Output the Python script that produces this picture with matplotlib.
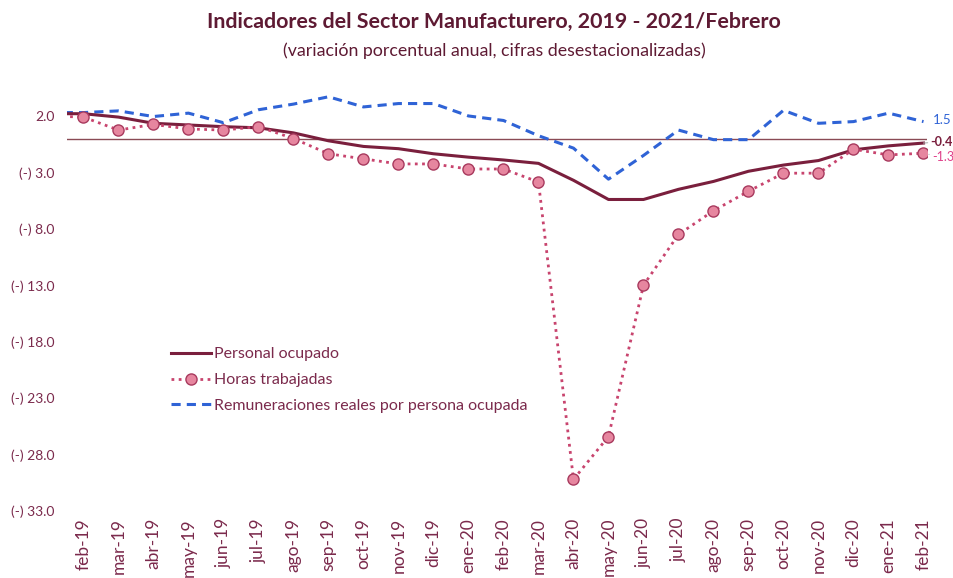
import numpy as np
import matplotlib
matplotlib.use("Agg")
import matplotlib.pyplot as plt

plt.rcParams["font.family"] = ["Lato", "DejaVu Sans"]

# months (first point, ene-19, has no label; it only feeds the left edge)
months = ["ene-19", "feb-19", "mar-19", "abr-19", "may-19", "jun-19", "jul-19",
          "ago-19", "sep-19", "oct-19", "nov-19", "dic-19", "ene-20", "feb-20",
          "mar-20", "abr-20", "may-20", "jun-20", "jul-20", "ago-20", "sep-20",
          "oct-20", "nov-20", "dic-20", "ene-21", "feb-21"]

personal = [2.2, 2.2, 1.9, 1.35, 1.2, 1.05, 0.95, 0.5, -0.2, -0.7, -0.9, -1.35,
            -1.65, -1.9, -2.2, -3.7, -5.4, -5.4, -4.5, -3.8, -2.9, -2.35, -1.95,
            -1.0, -0.65, -0.4]
horas = [2.0, 1.9, 0.75, 1.25, 0.85, 0.75, 1.05, 0.0, -1.35, -1.8, -2.25, -2.25,
         -2.7, -2.7, -3.85, -30.2, -26.4, -13.0, -8.5, -6.4, -4.67, -3.07, -3.07,
         -0.95, -1.45, -1.3]
remun = [2.3, 2.3, 2.45, 1.95, 2.25, 1.4, 2.55, 3.05, 3.7, 2.8, 3.1, 3.1, 2.0,
         1.6, 0.25, -0.85, -3.6, -1.5, 0.75, -0.1, -0.1, 2.5, 1.35, 1.5, 2.25, 1.5]

yticks = [2, -3, -8, -13, -18, -23, -28, -33]
ytick_labels = ["2.0", "(-) 3.0", "(-) 8.0", "(-) 13.0", "(-) 18.0",
                "(-) 23.0", "(-) 28.0", "(-) 33.0"]

c_pers = "#7A1F3D"
c_horas = "#C8446E"
c_remun = "#2F63D6"
c_text = "#7B2A4C"

x = np.arange(len(months)) - 1

fig = plt.figure(figsize=(9.54, 5.78), dpi=100)
ax = fig.add_axes([67 / 954, 1 - 511 / 578, (927 - 67) / 954, (511 - 90) / 578])

ax.axhline(0, color="#8A4A55", lw=1.0, zorder=1)
ax.plot(x, personal, color=c_pers, lw=2.2, label="Personal ocupado", zorder=3)
ax.plot(x, horas, color=c_horas, lw=2, ls=(0, (1, 1.6)), label="Horas trabajadas",
        marker="o", markersize=8, markerfacecolor="#E6869F",
        markeredgecolor="#A83A5E", markeredgewidth=1, markevery=range(1, len(x)),
        zorder=4)
ax.plot(x, remun, color=c_remun, lw=2.2, ls=(0, (3, 2)),
        label="Remuneraciones reales por persona ocupada", zorder=2)

ax.set_xlim(-0.47, 24.1)
ax.set_ylim(-33, 4.3)
ax.set_xticks(x[1:])
ax.set_xticklabels(months[1:], rotation=90, fontsize=12.5, color=c_text, va="top")
ax.set_yticks(yticks)
ax.set_yticklabels(ytick_labels, fontsize=10, color=c_text)
ax.tick_params(axis="both", length=0)
ax.tick_params(axis="y", pad=9)
ax.tick_params(axis="x", pad=5)
for s in ax.spines.values():
    s.set_visible(False)

# end-of-series labels
ax.annotate(f"{remun[-1]:.1f}", (x[-1], remun[-1]), xytext=(7, 1),
            textcoords="offset points", color=c_remun, fontsize=9.5,
            va="center", annotation_clip=False)
ax.annotate(f"{personal[-1]:.1f}", (x[-1], personal[-1]), xytext=(5, 1),
            textcoords="offset points", color=c_pers, fontsize=9,
            fontweight="bold", va="center", annotation_clip=False,
            arrowprops=dict(arrowstyle="-", color="#B0B0B0", lw=0.8,
                            shrinkA=0, shrinkB=0))
ax.annotate(f"{horas[-1]:.1f}", (x[-1], horas[-1]), xytext=(6, -3),
            textcoords="offset points", color="#E0408A", fontsize=9,
            va="center", annotation_clip=False,
            arrowprops=dict(arrowstyle="-", color="#B0B0B0", lw=0.8,
                            shrinkA=0, shrinkB=4))

leg = ax.legend(loc="upper left", bbox_to_anchor=(0.114, 0.404), frameon=False,
                fontsize=11.5, handlelength=2.5, handletextpad=0.15,
                labelspacing=0.72, borderaxespad=0)
for t in leg.get_texts():
    t.set_color(c_text)

fig.text(0.518, 0.962, "Indicadores del Sector Manufacturero, 2019 - 2021/Febrero",
         ha="center", va="center", fontsize=15.4, fontweight="bold", color="#5E1A33")
fig.text(0.518, 0.913, "(variación porcentual anual, cifras desestacionalizadas)",
         ha="center", va="center", fontsize=12.8, color="#5E1A33")

fig.savefig("out.png", dpi=100)
